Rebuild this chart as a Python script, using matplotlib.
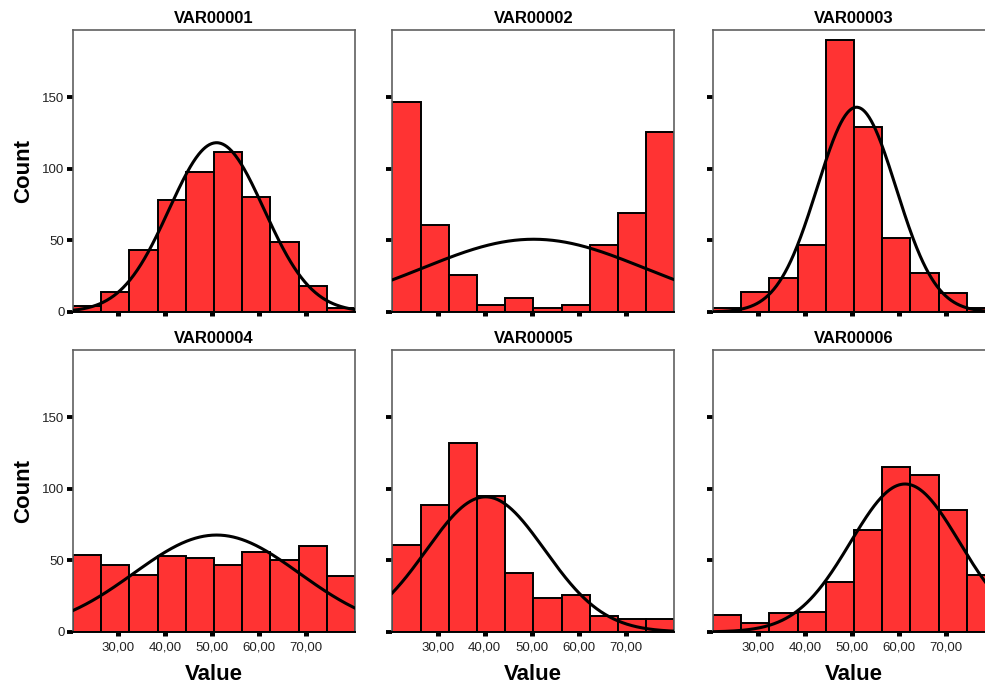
import numpy as np
import matplotlib
matplotlib.use("Agg")
import matplotlib.pyplot as plt

plt.rcParams['font.family'] = ['Liberation Sans', 'DejaVu Sans']

# 数据：每个变量 10 个分组的频数
titles = ["VAR00001", "VAR00002", "VAR00003", "VAR00004", "VAR00005", "VAR00006"]
counts_1 = [4, 14, 43, 78, 98, 112, 80, 49, 18, 3]
counts_2 = [147, 61, 26, 5, 10, 3, 5, 47, 69, 126]
counts_3 = [3, 14, 24, 47, 190, 129, 52, 27, 13, 3]
counts_4 = [54, 47, 40, 53, 52, 47, 56, 50, 60, 39]
counts_5 = [61, 89, 132, 95, 41, 24, 26, 11, 9, 9]
counts_6 = [12, 6, 13, 14, 35, 71, 115, 110, 85, 40]
all_counts = [counts_1, counts_2, counts_3, counts_4, counts_5, counts_6]

# 正态曲线参数（均值、标准差）
means = [50.9, 50.4, 50.9, 50.9, 40.2, 61.2]
sds = [10.1, 23.5, 8.4, 17.6, 12.6, 11.6]

bin_edges = np.linspace(20.35, 80.35, 11)
xticks = [30, 40, 50, 60, 70]
xticklabels = ["30,00", "40,00", "50,00", "60,00", "70,00"]
yticks = [0, 50, 100, 150]

fig = plt.figure(figsize=(9.85, 6.84), dpi=100)
W, H = 985, 684
lefts = [73, 392.3, 713]
tops = [30, 350]
aw, ah = 282, 282

for i in range(6):
    r, c = divmod(i, 3)
    ax = fig.add_axes([lefts[c] / W, (H - tops[r] - ah) / H, aw / W, ah / H])
    cnt = np.array(all_counts[i])
    bw = bin_edges[1] - bin_edges[0]
    ax.bar(bin_edges[:-1], cnt, width=bw, align='edge', color='#ff3333',
           edgecolor='black', linewidth=1.4, zorder=2)
    xs = np.linspace(bin_edges[0], bin_edges[-1], 400)
    n = cnt.sum()
    ys = n * bw / (sds[i] * np.sqrt(2 * np.pi)) * np.exp(-0.5 * ((xs - means[i]) / sds[i]) ** 2)
    ax.plot(xs, ys, color='black', lw=2.2, zorder=3)

    ax.set_xlim(bin_edges[0], bin_edges[-1])
    ax.set_ylim(0, 197)
    ax.set_xticks(xticks)
    ax.set_yticks(yticks)
    ax.tick_params(axis='y', length=4.2, width=2.8, color='black', pad=2,
                   labelsize=9.5, labelcolor='#222222')
    ax.tick_params(axis='x', length=2.6, width=3.6, color='black', pad=4,
                   labelsize=9.5, labelcolor='#222222')
    if r == 1:
        ax.set_xticklabels(xticklabels)
    else:
        ax.set_xticklabels([])
    if c != 0:
        ax.set_yticklabels([])
    for s in ['top', 'right', 'left']:
        ax.spines[s].set_color('#606060')
        ax.spines[s].set_linewidth(1.2)
    ax.spines['bottom'].set_color('black')
    ax.spines['bottom'].set_linewidth(1.4)
    ax.set_title(titles[i], fontsize=12, fontweight='bold', pad=5)

    if c == 0:
        ax.set_ylabel("Count", fontsize=16, fontweight='bold', labelpad=6)
    if r == 1:
        ax.set_xlabel("Value", fontsize=16, fontweight='bold', labelpad=8)

fig.savefig("out.png", dpi=100)
